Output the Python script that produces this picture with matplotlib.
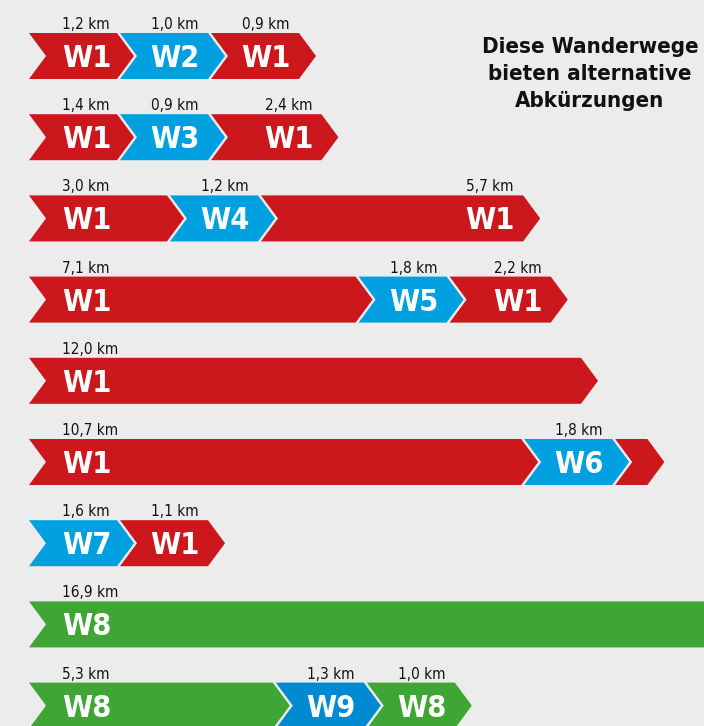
"""Wanderwege mit alternativen Abkürzungen - chevron chart recreated in matplotlib."""

import matplotlib

matplotlib.use("Agg")
import matplotlib.font_manager as fm  # noqa: E402
from matplotlib import pyplot as plt  # noqa: E402
from matplotlib.patches import Polygon  # noqa: E402

# route label of every segment, one list per row (top to bottom)
ROUTES = [
    ["W1", "W2", "W1"],
    ["W1", "W3", "W1"],
    ["W1", "W4", "W1"],
    ["W1", "W5", "W1"],
    ["W1"],
    ["W1", "W6", "W1"],
    ["W7", "W1"],
    ["W8"],
    ["W8", "W9", "W8"],
]
# length of every segment in km
DISTANCES_KM = [
    [1.2, 1.0, 0.9],
    [1.4, 0.9, 2.4],
    [3.0, 1.2, 5.7],
    [7.1, 1.8, 2.2],
    [12.0],
    [10.7, 1.8, 0.7],
    [1.6, 1.1],
    [16.9],
    [5.3, 1.3, 1.0],
]
# (row, segment) drawn without any labels
UNLABELLED = [(5, 2)]

TITLE = "Diese Wanderwege\nbieten alternative\nAbkürzungen"

ROUTE_COLORS = {
    "W1": "#cc171d",
    "W2": "#009fe0",
    "W3": "#009fe0",
    "W4": "#009fe0",
    "W5": "#009fe0",
    "W6": "#009fe0",
    "W7": "#009fe0",
    "W8": "#3fa535",
    "W9": "#008ad2",
}
BG = "#ececec"

# layout (figure pixels)
PX_PER_KM = 46
MIN_W = 88
DEPTH = 17
HALF_H = 23
GAP = 3
X0 = 29
ROW0 = 56
ROW_STEP = 81.2


def find_font(bold):
    """Return a FontProperties for the narrowest installed sans we can find."""
    want = "bold" if bold else "normal"
    hits = []
    for f in fm.fontManager.ttflist:
        narrow = "Narrow" in f.name or f.stretch in ("condensed", "semi-condensed")
        if not narrow or f.style != "normal":
            continue
        w = f.weight if isinstance(f.weight, int) else (700 if f.weight == "bold" else 400)
        if (w >= 600) == bold:
            hits.append(f.fname)
    if hits:
        return fm.FontProperties(fname=sorted(hits)[0])
    return fm.FontProperties(family="Roboto", weight=want)


def seg_width(km):
    return max(MIN_W, km * PX_PER_KM)


fp_bold = find_font(True)
fp_reg = find_font(False)

fig = plt.figure(figsize=(7.04, 7.26), dpi=100, facecolor=BG)
ax = fig.add_axes([0, 0, 1, 1])
ax.set_facecolor(BG)
ax.set_xlim(0, 704)
ax.set_ylim(726, 0)
ax.axis("off")

for i, (routes, dists) in enumerate(zip(ROUTES, DISTANCES_KM)):
    yc = ROW0 + i * ROW_STEP
    x = X0
    for j, (route, km) in enumerate(zip(routes, dists)):
        w = seg_width(km) if (i, j) not in UNLABELLED else km * PX_PER_KM
        x1 = x + w
        pts = [(x, yc - HALF_H), (x1, yc - HALF_H), (x1 + DEPTH, yc),
               (x1, yc + HALF_H), (x, yc + HALF_H), (x + DEPTH, yc)]
        ax.add_patch(Polygon(pts, closed=True, facecolor=ROUTE_COLORS[route], edgecolor="none"))
        if (i, j) not in UNLABELLED:
            if j == 0:
                tx, ha = x + 33, "left"
            else:
                tx, ha = x1 - 33, "center"
            ax.text(tx, yc + 11, route, color="white", fontproperties=fp_bold,
                    fontsize=22, ha=ha, va="baseline")
            km_txt = f"{km:.1f}".replace(".", ",") + " km"
            ax.text(tx, yc - HALF_H - 4, km_txt, color="#111111", fontproperties=fp_reg,
                    fontsize=11, ha=ha, va="baseline")
        x = x1 + GAP

ax.text(590, 74, TITLE, fontproperties=fp_bold, fontsize=16, ha="center", va="center",
        linespacing=1.42, color="#111111")

fig.savefig("out.png", dpi=100, facecolor=BG)
